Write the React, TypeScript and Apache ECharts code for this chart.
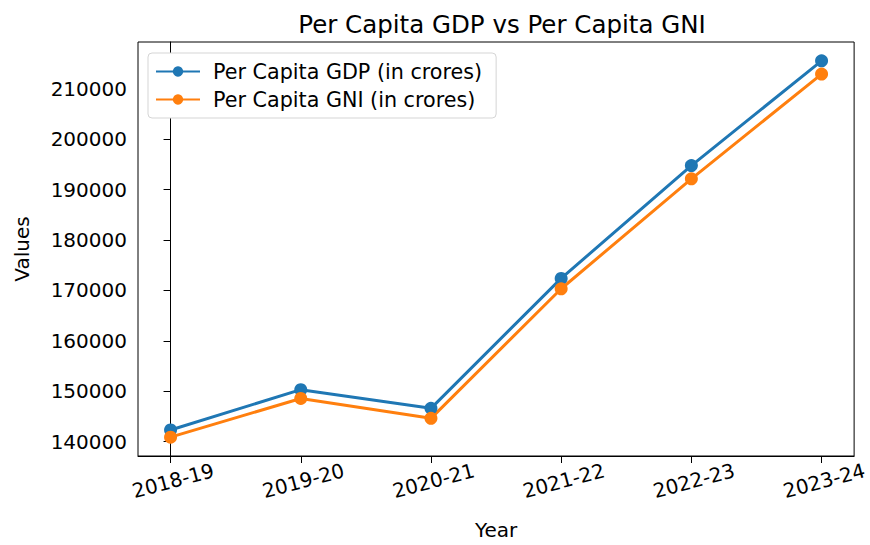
import React, { useEffect, useRef } from "react";
import * as echarts from "echarts";

const years = ["2018-19", "2019-20", "2020-21", "2021-22", "2022-23", "2023-24"];
const gdp = [142300, 150300, 146600, 172400, 194800, 215600];
const gni = [140870, 148560, 144610, 170340, 192170, 212960];
const yTicks = [140000, 150000, 160000, 170000, 180000, 190000, 200000, 210000];

const FONT = "DejaVu Sans";

export default function App() {
  const ref = useRef<HTMLDivElement>(null);
  useEffect(() => {
    if (!ref.current) return;
    const chart = echarts.init(ref.current, null, { renderer: "svg" });
    const all = gdp.concat(gni);
    const lo = Math.min(...all);
    const hi = Math.max(...all);
    const pad = (hi - lo) * 0.05;
    const xIdx = years.map((_, i) => i);
    chart.setOption({
      animation: false,
      backgroundColor: "#fff",
      textStyle: { fontFamily: FONT },
      title: {
        text: "Per Capita GDP vs Per Capita GNI",
        left: 497,
        textAlign: "center",
        top: 7,
        textStyle: { fontFamily: FONT, fontSize: 24.5, fontWeight: "normal", color: "#000" },
      },
      legend: {
        orient: "vertical",
        left: 148,
        top: 53,
        padding: [8, 14, 8, 7],
        itemGap: 7,
        itemWidth: 44,
        itemHeight: 13,
        backgroundColor: "#fff",
        borderColor: "#d5d5d5",
        borderWidth: 1,
        borderRadius: 4,
        textStyle: { fontFamily: FONT, fontSize: 20.7, color: "#000", lineHeight: 21, padding: [0, 0, 0, 8] },
        data: ["Per Capita GDP (in crores)", "Per Capita GNI (in crores)"],
      },
      grid: {
        left: 138,
        right: 9,
        top: 42,
        bottom: 84,
        show: true,
        borderColor: "#000",
        borderWidth: 1,
        containLabel: false,
      },
      xAxis: {
        type: "value",
        min: -0.25,
        max: years.length - 0.75,
        name: "Year",
        nameLocation: "middle",
        nameGap: 64,
        nameTextStyle: { fontFamily: FONT, fontSize: 20, color: "#000" },
        splitLine: { show: false },
        axisLine: { show: true, onZero: false, lineStyle: { color: "#000", width: 1 } },
        axisTick: { show: true, length: 7, lineStyle: { color: "#000", width: 1 }, customValues: xIdx },
        axisLabel: {
          customValues: xIdx,
          rotate: 15,
          align: "center",
          verticalAlign: "top",
          margin: 15,
          fontFamily: FONT,
          fontSize: 20,
          color: "#000",
          formatter: (v: number) => years[Math.round(v)] ?? "",
        },
      },
      yAxis: {
        type: "value",
        min: lo - pad,
        max: hi + pad,
        name: "Values",
        nameLocation: "middle",
        nameGap: 106,
        nameTextStyle: { fontFamily: FONT, fontSize: 20, color: "#000" },
        splitLine: { show: false },
        axisLine: { show: true, lineStyle: { color: "#000", width: 1 } },
        axisTick: { show: true, length: 7, lineStyle: { color: "#000", width: 1 }, customValues: yTicks },
        axisLabel: {
          customValues: yTicks,
          margin: 11,
          fontFamily: FONT,
          fontSize: 20,
          color: "#000",
          formatter: (v: number) => String(v),
        },
      },
      series: [
        {
          name: "Per Capita GDP (in crores)",
          type: "line",
          data: gdp.map((v, i) => [i, v]),
          symbol: "circle",
          symbolSize: 13,
          lineStyle: { color: "#1f77b4", width: 3 },
          itemStyle: { color: "#1f77b4" },
        },
        {
          name: "Per Capita GNI (in crores)",
          type: "line",
          data: gni.map((v, i) => [i, v]),
          symbol: "circle",
          symbolSize: 13,
          lineStyle: { color: "#ff7f0e", width: 3 },
          itemStyle: { color: "#ff7f0e" },
        },
      ],
    });
    return () => chart.dispose();
  }, []);
  return <div ref={ref} style={{ width: 870, height: 545, position: "absolute", left: 0, top: 0 }} />;
}
